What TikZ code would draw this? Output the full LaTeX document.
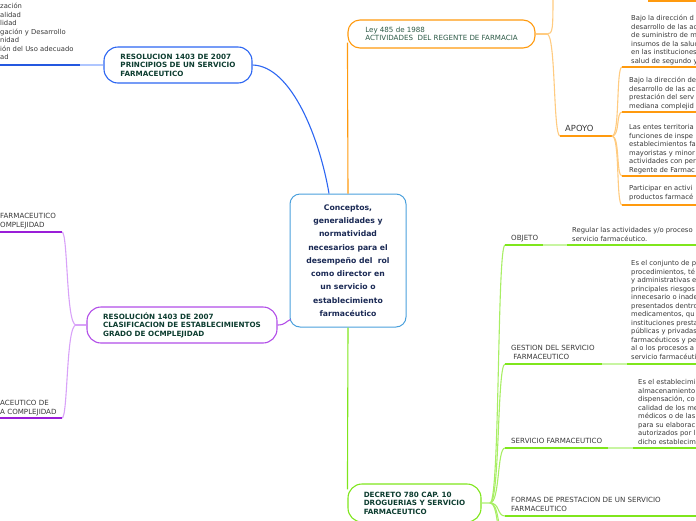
\documentclass[tikz,border=0pt]{standalone}
\usepackage{fontspec}
\setmainfont{DejaVu Sans}
\usepackage{tikz}
\usetikzlibrary{positioning}

\definecolor{bluebr}{HTML}{2C66F2}
\definecolor{bluedk}{HTML}{2458E0}
\definecolor{bluelt}{HTML}{AFC6FF}
\definecolor{orbr}{HTML}{FF9A0E}
\definecolor{orlt}{HTML}{FFCB80}
\definecolor{purbr}{HTML}{B24EE8}
\definecolor{purdk}{HTML}{9A1ED8}
\definecolor{purlt}{HTML}{D8A2F8}
\definecolor{grbr}{HTML}{7FE61C}
\definecolor{grlt}{HTML}{C8F5A2}
\definecolor{grmid}{HTML}{A8EE64}
\definecolor{cenbr}{HTML}{4AA0DC}
\definecolor{centxt}{HTML}{1B2A55}
\definecolor{boxtxt}{HTML}{0D3D30}
\definecolor{leytxt}{HTML}{2D5A47}
\definecolor{paratxt}{HTML}{383838}

\begin{document}
\begin{tikzpicture}[x=1pt, y=-1pt,
  topic/.style={draw, rounded corners=14pt, line width=1.1pt, fill=white, align=left, inner xsep=3pt, inner ysep=2pt, font=\bfseries\fontsize{7.2}{8.6}\selectfont, text=boxtxt},
  para/.style={inner sep=0pt, anchor=north west, align=left, font=\fontsize{6.8}{8.5}\selectfont, text=paratxt},
  lbl/.style={para, font=\fontsize{7.1}{8.6}\selectfont},
  conn/.style={line width=1.1pt},
  uline/.style={line width=2pt}
]
\useasboundingbox (0,0) rectangle (696,520);
\clip (0,0) rectangle (696,520);

% central topic
\node[draw=cenbr, line width=1pt, rounded corners=10pt, fill=white, minimum width=116pt, minimum height=133pt, align=center, inner sep=2pt, font=\bfseries\fontsize{7.7}{13.3}\selectfont, text=centxt] (cen) at (348,260.5)
  {Conceptos,\\generalidades y\\normatividad\\necesarios para el\\desempeño del\ \ rol\\como director en\\un servicio o\\establecimiento\\farmacéutico};

% main topics
\node[topic, draw=bluebr, minimum width=148pt, minimum height=36pt] (res1) at (178,65)
  {RESOLUCION 1403 DE 2007\\PRINCIPIOS DE UN SERVICIO\\FARMACEUTICO};
\node[topic, draw=orbr, rounded corners=12pt, font=\fontsize{7.1}{8.4}\selectfont, text=leytxt, minimum width=187pt, minimum height=28pt] (ley) at (441.5,34)
  {Ley 485 de 1988\\ACTIVIDADES\ \ DEL REGENTE DE FARMACIA};
\node[topic, draw=purbr, minimum width=190pt, minimum height=36pt] (res2) at (182,325)
  {RESOLUCIÓN 1403 DE 2007\\CLASIFICACION DE ESTABLECIMIENTOS\\GRADO DE OCMPLEJIDAD};
\node[topic, draw=grbr, minimum width=133pt, minimum height=38pt] (dec) at (414.5,503)
  {DECRETO 780 CAP. 10\\DROGUERIAS Y SERVICIO\\FARMACEUTICO};

% blue side
\node[para] (princ) at (0,3.2) {zación\\alidad\\lidad\\gación y Desarrollo\\nidad\\ión del Uso adecuado\\ad};
\coordinate (bl) at (80,65);
\draw[conn, bluelt] (res1.west) -- (bl);
\draw[uline, bluedk] (bl) -- (-5,65);
\draw[conn, bluebr] (res1.east) .. controls (292,66) and (320,140) .. ([xshift=-19pt]cen.north);

% orange side
\draw[conn, orbr] (cen.north) -- ([yshift=6pt]ley.south west);
\coordinate (ofork) at (547,34);
\coordinate (otop) at (553,-10);
\draw[conn, orlt] (ley.east) -- (ofork);
\draw[conn, orlt] (ofork) .. controls +(6,0) and +(0,40) .. (otop);
\draw[uline, orbr] (648,1) -- (700,1);
\coordinate (apl) at (560,136);
\coordinate (apr) at (612,136);
\draw[conn, orlt] (ofork) .. controls +(9,0) and +(-7,0) .. (apl);
\draw[uline, orbr] (apl) -- (apr);
\node[lbl, anchor=base west, font=\fontsize{8.4}{9}\selectfont] (apoyo) at (565,131) {APOYO};
\coordinate (a1) at (622,67);
\coordinate (a2) at (622,112);
\coordinate (a3) at (622,176);
\coordinate (a4) at (622,205);
\foreach \c in {a1,a2,a3,a4} {
  \draw[conn, orlt] (apr) .. controls +(8,0) and +(-6,0) .. (\c);
  \draw[uline, orbr] (\c) -- ++(80,0);
}
\node[para] (ap1) at (631,15.2) {Bajo la dirección d\\desarrollo de las ac\\de suministro de m\\insumos de la salud\\en las instituciones\\salud de segundo y};
\node[para] (ap2) at (629,77.2) {Bajo la dirección de\\desarrollo de las ac\\prestación del serv\\mediana complejid};
\node[para] (ap3) at (629,124.2) {Las entes territoria\\funciones de inspe\\establecimientos fa\\mayoristas y minor\\actividades con per\\Regente de Farmac};
\node[para] (ap4) at (629,185.2) {Participar en activi\\productos farmacé};

% purple side
\draw[conn, purbr] (res2.east) .. controls +(8,0) and +(-5,2) .. ([xshift=1pt,yshift=8pt]cen.south west);
\coordinate (pfork) at (76,325);
\coordinate (pu) at (62,232);
\coordinate (pd) at (62,418);
\draw[conn, purlt] (res2.west) -- (pfork);
\draw[conn, purlt] (pfork) .. controls +(-10,0) and +(6,0) .. (pu);
\draw[conn, purlt] (pfork) .. controls +(-10,0) and +(6,0) .. (pd);
\draw[uline, purdk] (pu) -- (-5,232);
\draw[uline, purdk] (pd) -- (-5,418);
\node[lbl] (bajo) at (0,213.2) {FARMACEUTICO\\OMPLEJIDAD};
\node[lbl] (alta) at (0,400.2) {ACEUTICO DE\\A COMPLEJIDAD};

% green side
\draw[conn, grbr] (cen.south) -- ([yshift=-6pt]dec.north west);
\coordinate (gfork) at (490,503);
\draw[conn, grlt] (dec.east) -- (gfork);
\coordinate (go) at (505,245);
\coordinate (gg) at (505,364);
\coordinate (gs) at (505,448);
\coordinate (gf) at (505,516);
\coordinate (gx1) at (505,536);
\coordinate (gx2) at (505,556);
\foreach \c in {go,gg,gs,gf,gx1,gx2}
  \draw[conn, grmid] (gfork) .. controls +(10,0) and +(-8,0) .. (\c);
\draw[uline, grbr] (go) -- (543,245);
\draw[uline, grlt] (543,245) -- (567,245);
\draw[uline, grbr] (567,245) -- (700,245);
\draw[uline, grbr] (gg) -- (602,364);
\draw[uline, grlt] (602,364) -- (627,364);
\draw[uline, grbr] (627,364) -- (700,364);
\draw[uline, grbr] (gs) -- (608,448);
\draw[uline, grlt] (608,448) -- (633,448);
\draw[uline, grbr] (633,448) -- (700,448);
\draw[uline, grbr] (gf) -- (700,516);
\node[lbl] (objeto) at (511,235.2) {OBJETO};
\node[para] (objp) at (572,227.2) {Regular las actividades y/o proceso\\servicio farmacéutico.};
\node[lbl] (gestion) at (511,345.2) {GESTION DEL SERVICIO\\\ FARMACEUTICO};
\node[para] (gesp) at (631,260.2) {Es el conjunto de p\\procedimientos, té\\y administrativas e\\principales riesgos\\innecesario o inade\\presentados dentro\\medicamentos, qu\\instituciones presta\\públicas y privadas\\farmacéuticos y pe\\al o los procesos a\\servicio farmacéuti};
\node[lbl] (servicio) at (511,438.2) {SERVICIO FARMACEUTICO};
\node[para] (serp) at (638,379.2) {Es el establecimi\\almacenamiento\\dispensación, co\\calidad de los me\\médicos o de las\\para su elaborac\\autorizados por l\\dicho establecim};
\node[lbl] (formas) at (511,497.2) {FORMAS DE PRESTACION DE UN SERVICIO\\FARMACEUTICO};
\end{tikzpicture}
\end{document}
